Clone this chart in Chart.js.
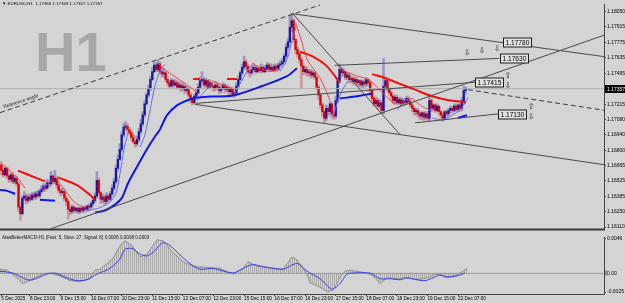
<!DOCTYPE html>
<html><head><meta charset="utf-8">
<script src="https://cdn.jsdelivr.net/npm/chart.js@4.4.1/dist/chart.umd.min.js"></script>
<style>
html,body{margin:0;padding:0;background:#d4d4d4;width:625px;height:303px;overflow:hidden;}
#c1{position:absolute;left:0;top:0;}
#c2{position:absolute;left:0;top:233px;}
</style></head><body>
<canvas id="c1" width="625" height="233"></canvas>
<canvas id="c2" width="625" height="70"></canvas>
<script>
// ---------------- DATA ----------------
const firstOpen = 1.1667;
const closes = [
1.1662,1.1658,1.1664,1.1657,1.1654,1.1658,1.1652,1.1655,1.1650,1.1629,
1.1623,1.1637,1.1639,1.1635,1.1638,1.1636,1.1640,1.1638,1.1641,1.1639,
1.1643,1.1645,1.1648,1.1646,1.1651,1.1650,1.1657,1.1652,1.1655,1.1649,
1.1644,1.1642,1.1643,1.1637,1.1634,1.1627,1.1625,1.1629,1.1626,1.1628,
1.1625,1.1628,1.1626,1.1629,1.1627,1.1630,1.1629,1.1632,1.1635,1.1639,
1.1653,1.1642,1.1636,1.1638,1.1634,1.1639,1.1636,1.1641,1.1646,1.1652,
1.1664,1.1672,1.1681,1.1694,1.1701,1.1702,1.1699,1.1696,1.1692,1.1688,
1.1686,1.1690,1.1697,1.1704,1.1712,1.1722,1.1730,1.1736,1.1744,1.1751,
1.1757,1.1753,1.1758,1.1751,1.1749,1.1750,1.1744,1.1741,1.1738,1.1743,
1.1739,1.1741,1.1737,1.1739,1.1736,1.1738,1.1734,1.1736,1.1730,1.1726,
1.1723,1.1729,1.1732,1.1737,1.1743,1.1744,1.1739,1.1743,1.1737,1.1741,
1.1738,1.1736,1.1739,1.1737,1.1734,1.1736,1.1739,1.1735,1.1737,1.1733,
1.1736,1.1730,1.1732,1.1738,1.1744,1.1750,1.1755,1.1760,1.1756,1.1751,
1.1750,1.1753,1.1755,1.1751,1.1754,1.1752,1.1755,1.1751,1.1754,1.1757,
1.1753,1.1755,1.1752,1.1756,1.1754,1.1757,1.1758,1.1760,1.1765,1.1773,
1.1778,1.1791,1.1797,1.1780,1.1771,1.1767,1.1762,1.1756,1.1751,1.1753,
1.1750,1.1751,1.1748,1.1750,1.1746,1.1737,1.1730,1.1721,1.1715,1.1709,
1.1718,1.1715,1.1722,1.1713,1.1711,1.1725,1.1743,1.1753,1.1750,1.1751,
1.1746,1.1748,1.1744,1.1745,1.1742,1.1744,1.1741,1.1743,1.1739,1.1742,
1.1740,1.1744,1.1741,1.1734,1.1727,1.1722,1.1725,1.1720,1.1723,1.1716,
1.1738,1.1743,1.1736,1.1732,1.1729,1.1725,1.1728,1.1723,1.1726,1.1722,
1.1725,1.1723,1.1727,1.1724,1.1721,1.1718,1.1715,1.1716,1.1713,1.1711,
1.1714,1.1710,1.1713,1.1709,1.1725,1.1718,1.1721,1.1716,1.1720,1.1715,
1.1712,1.1709,1.1715,1.1713,1.1716,1.1718,1.1716,1.1720,1.1717,1.1721,
1.1718,1.1725,1.1734,1.17357];
const highs = [
1.1670,1.1664,1.1665,1.1665,1.1658,1.1660,1.1659,1.1657,1.1657,1.1652,
1.1632,1.1639,1.1643,1.1641,1.1640,1.1641,1.1642,1.1642,1.1643,1.1643,
1.1645,1.1648,1.1650,1.1650,1.1654,1.1653,1.1661,1.1658,1.1662,1.1657,
1.1650,1.1646,1.1646,1.1645,1.1639,1.1636,1.1630,1.1631,1.1630,1.1629,
1.1629,1.1629,1.1629,1.1630,1.1630,1.1631,1.1632,1.1634,1.1637,1.1642,
1.1661,1.1655,1.1643,1.1641,1.1640,1.1642,1.1641,1.1643,1.1649,1.1655,
1.1667,1.1676,1.1686,1.1697,1.1704,1.1706,1.1704,1.1701,1.1698,1.1694,
1.1690,1.1693,1.1700,1.1708,1.1715,1.1725,1.1732,1.1739,1.1747,1.1755,
1.1760,1.1759,1.1762,1.1760,1.1754,1.1754,1.1751,1.1746,1.1743,1.1745,
1.1744,1.1744,1.1743,1.1742,1.1741,1.1741,1.1739,1.1738,1.1737,1.1732,
1.1728,1.1731,1.1735,1.1740,1.1746,1.1751,1.1746,1.1745,1.1744,1.1744,
1.1743,1.1740,1.1742,1.1741,1.1739,1.1738,1.1741,1.1740,1.1739,1.1738,
1.1737,1.1737,1.1735,1.1741,1.1747,1.1752,1.1758,1.1765,1.1762,1.1758,
1.1753,1.1756,1.1758,1.1757,1.1756,1.1756,1.1758,1.1757,1.1756,1.1759,
1.1759,1.1758,1.1757,1.1758,1.1758,1.1759,1.1761,1.1763,1.1767,1.1776,
1.1781,1.1802,1.1804,1.1799,1.1781,1.1773,1.1769,1.1764,1.1758,1.1756,
1.1755,1.1753,1.1753,1.1752,1.1751,1.1748,1.1739,1.1731,1.1723,1.1716,
1.1721,1.1720,1.1724,1.1723,1.1715,1.1729,1.1746,1.1758,1.1755,1.1754,
1.1752,1.1750,1.1750,1.1747,1.1747,1.1746,1.1746,1.1744,1.1744,1.1743,
1.1744,1.1746,1.1745,1.1743,1.1736,1.1729,1.1728,1.1727,1.1726,1.1725,
1.1763,1.1746,1.1744,1.1737,1.1734,1.1730,1.1730,1.1730,1.1728,1.1728,
1.1727,1.1727,1.1729,1.1729,1.1726,1.1723,1.1720,1.1718,1.1718,1.1715,
1.1715,1.1715,1.1715,1.1715,1.1731,1.1727,1.1722,1.1722,1.1722,1.1721,
1.1716,1.1714,1.1716,1.1716,1.1718,1.1720,1.1720,1.1722,1.1722,1.1722,
1.1722,1.1728,1.1738,1.1737];
const lows = [
1.1658,1.1656,1.1657,1.1655,1.1651,1.1652,1.1650,1.1650,1.1648,1.1625,
1.1617,1.1622,1.1635,1.1632,1.1633,1.1634,1.1635,1.1636,1.1636,1.1637,
1.1638,1.1641,1.1643,1.1643,1.1645,1.1647,1.1648,1.1650,1.1650,1.1646,
1.1642,1.1639,1.1640,1.1635,1.1630,1.1618,1.1622,1.1623,1.1624,1.1624,
1.1623,1.1623,1.1624,1.1624,1.1625,1.1625,1.1626,1.1627,1.1630,1.1633,
1.1637,1.1639,1.1632,1.1633,1.1631,1.1632,1.1634,1.1635,1.1639,1.1644,
1.1650,1.1662,1.1671,1.1679,1.1692,1.1698,1.1696,1.1694,1.1689,1.1686,
1.1683,1.1684,1.1688,1.1695,1.1702,1.1710,1.1721,1.1728,1.1734,1.1743,
1.1750,1.1751,1.1751,1.1749,1.1746,1.1746,1.1742,1.1738,1.1736,1.1737,
1.1737,1.1738,1.1735,1.1736,1.1733,1.1734,1.1731,1.1732,1.1728,1.1723,
1.1721,1.1722,1.1727,1.1730,1.1736,1.1741,1.1737,1.1737,1.1735,1.1736,
1.1736,1.1733,1.1734,1.1735,1.1731,1.1732,1.1735,1.1732,1.1733,1.1730,
1.1731,1.1729,1.1728,1.1730,1.1737,1.1743,1.1748,1.1753,1.1753,1.1749,
1.1746,1.1748,1.1751,1.1749,1.1750,1.1750,1.1750,1.1750,1.1750,1.1752,
1.1751,1.1751,1.1751,1.1751,1.1751,1.1752,1.1755,1.1757,1.1758,1.1763,
1.1771,1.1776,1.1787,1.1777,1.1767,1.1764,1.1759,1.1736,1.1748,1.1749,
1.1747,1.1747,1.1745,1.1746,1.1744,1.1735,1.1726,1.1718,1.1711,1.1705,
1.1707,1.1711,1.1712,1.1709,1.1708,1.1709,1.1723,1.1741,1.1747,1.1747,
1.1744,1.1744,1.1741,1.1741,1.1739,1.1740,1.1738,1.1738,1.1737,1.1737,
1.1737,1.1738,1.1738,1.1731,1.1724,1.1720,1.1720,1.1717,1.1718,1.1714,
1.1713,1.1736,1.1733,1.1730,1.1726,1.1722,1.1722,1.1721,1.1722,1.1720,
1.1721,1.1721,1.1722,1.1722,1.1719,1.1715,1.1712,1.1712,1.1710,1.1708,
1.1708,1.1707,1.1708,1.1706,1.1707,1.1715,1.1716,1.1714,1.1715,1.1712,
1.1709,1.1706,1.1708,1.1710,1.1711,1.1714,1.1714,1.1715,1.1715,1.1715,
1.1715,1.1716,1.1723,1.1731];

// x tick positions (bar index) and their labels
const xTickIdx = [0,15,31,47,63,79,95,111,127,143,159,175,191,207,223,239];
const xTickLabels = ['5 Dec 2025','8 Dec 23:00','9 Dec 15:00','10 Dec 07:00','10 Dec 23:00','11 Dec 15:00','12 Dec 07:00','12 Dec 23:00','15 Dec 15:00','16 Dec 07:00','16 Dec 23:00','17 Dec 15:00','18 Dec 07:00','18 Dec 23:00','19 Dec 15:00','22 Dec 07:00'];
// price axis tick labels
const yTicks = [1.18050,1.17915,1.17775,1.17635,1.17495,1.17215,1.17080,1.16940,1.16800,1.16665,1.16525,1.16385,1.16250,1.16110];
const macdTicks = [0.0046, 0, -0.0025];

// slow MA (thick) segments: [barIndex, price]
const slowBlueSegs = [
 [[-0.7,1.16443],[3.5,1.16434],[7.2,1.16408]],
 [[20.2,1.16356],[28.1,1.16347]],
 [[49,1.16241],[54.2,1.16259],[59.5,1.16312],[63.1,1.16373],[66.3,1.16505],[71,1.16654],[76.2,1.16812],[80.4,1.16926],[83,1.16988],[86.7,1.17119],[91.9,1.17207],[97.2,1.17251],[102.4,1.17277],[109.2,1.17286],[121.2,1.17295],[136.9,1.17383],[149.5,1.17470],[154.7,1.17541]],
 [[177.2,1.17269],[185,1.17286],[194,1.17313]],
 [[239,1.17093],[243.7,1.17119]]
];
const slowRedSegs = [
 [[8.7,1.16619],[15,1.16575],[22.8,1.16522]],
 [[29.7,1.16557],[39.6,1.16487],[46.4,1.16399],[49,1.16356]],
 [[100.3,1.17444],[103.9,1.17444]],
 [[118.1,1.17444],[123.3,1.17444]],
 [[156.3,1.17690],[163.1,1.17646],[170.4,1.17558],[177.2,1.17409]],
 [[194,1.17488],[200.8,1.17453],[208.6,1.17400],[216.5,1.17348],[224.3,1.17295],[232.2,1.17260],[243.1,1.17233]]
];
// fast MA (thin) segments
const fastRedSegs = [
 [[0.3,1.16680],[4.5,1.16619],[8.7,1.16549],[12.4,1.16461]],
 [[28.1,1.16566],[33.3,1.16443],[38.6,1.16329],[43.8,1.16285]],
 [[66.3,1.17005],[70,1.16926],[72.6,1.16882]],
 [[82,1.17585],[86.7,1.17514],[91.9,1.17453],[98.7,1.17374],[102.4,1.17321]],
 [[110.8,1.17427],[115.5,1.17392],[120.7,1.17356]],
 [[131.2,1.17593],[135.4,1.17541],[140.6,1.17514],[145.8,1.17532]],
 [[154.2,1.17936],[157.3,1.17778],[160,1.17620],[166.8,1.17453],[172,1.17251]],
 [[179.8,1.17514],[185,1.17479],[191.3,1.17444],[195.5,1.17392],[200.8,1.17295],[206,1.17216]],
 [[214.9,1.17269],[220.1,1.17198],[224.3,1.17163]]
];
const fastBlueSegs = [
 [[12.4,1.16373],[17.6,1.16417],[22.8,1.16478],[26.5,1.16531]],
 [[45.4,1.16259],[51.6,1.16285],[56.9,1.16338],[60,1.16417],[62.1,1.16592],[64.2,1.16812],[66.3,1.16961]],
 [[72.6,1.16830],[75.2,1.16944],[77.8,1.17163],[80.4,1.17383],[83,1.17514],[85.6,1.17576]],
 [[102.4,1.17251],[107.6,1.17356],[110.8,1.17409]],
 [[121.2,1.17295],[124.9,1.17400],[128.6,1.17514],[131.2,1.17576]],
 [[145.8,1.17514],[149.5,1.17620],[152.1,1.17795],[154.2,1.17910]],
 [[173.6,1.17102],[176.2,1.17251],[178.8,1.17356],[181.4,1.17427]],
 [[207.1,1.17163],[211.2,1.17251],[214.9,1.17269]],
 [[225.4,1.17093],[231.1,1.17075],[235.8,1.17119],[240,1.17163],[244.2,1.17277]]
];
// trend lines [barIndex, price]
const trendSolid = [
 [[152.6,1.18032],[315.4,1.17646]],
 [[152.6,1.18032],[208.6,1.16944]],
 [[25.5,1.16092],[315.4,1.17839]],
 [[174.4,1.17567],[260.6,1.17630]],
 [[101.3,1.17216],[315.4,1.16672]],
 [[101.9,1.17225],[247.9,1.17415]],
 [[216.5,1.17049],[259.9,1.17130]]
];
const trendDashed = [
 [[-0.7,1.17141],[166.8,1.18111]],
 [[244.2,1.17348],[315.4,1.17163]]
];
// price label boxes
const boxIdx = [262.5, 261, 247.9, 259.9];
const boxPrice = [1.17780, 1.17630, 1.17415, 1.17130];
// hollow arrows
const arrowIdx = [265.1, 265.1, 277.2, 277.2, 243.7, 251.5, 259.4];
const arrowPrice = [1.17471, 1.17383, 1.17190, 1.17102, 1.17681, 1.17699, 1.17716];
const arrowGlyph = ['\u21E7','\u21E9','\u21E7','\u21E9','\u21E9','\u21E9','\u21E9'];
// MACD panel
const macdLine = [[-0.7,0.00055],[3,0.00042],[8.2,-0.0006],[11.3,-0.00136],[16.6,-0.00072],[21.8,-0.00009],[25.5,0.00004],[30.7,-0.00034],[36,-0.00098],[41.2,-0.0011],[46.4,-0.00072],[49,0.00042],[51.6,0.00055],[58.4,0.00194],[62.1,0.00371],[64.7,0.00435],[68.4,0.00371],[72.6,0.00219],[76.2,0.00257],[81.5,0.00448],[84.6,0.00435],[89.8,0.00283],[95.1,0.00156],[100.3,0.00093],[107.6,0.0008],[114.4,0.00067],[121.2,-0.00009],[126.5,0.00067],[129.1,0.00156],[133.8,0.00093],[139,0.0008],[147.4,0.00055],[152.1,0.00219],[154.7,0.00181],[160,-0.00009],[161.5,-0.00123],[166.8,-0.00186],[171,-0.0025],[173.6,-0.00224],[177.2,-0.0006],[179.8,0.00029],[182.5,0.00042],[191.4,0.00004],[194.5,-0.00034],[198.2,-0.00136],[201.8,-0.0006],[208.6,-0.00072],[212.3,-0.0006],[217.5,-0.00085],[222.8,-0.0006],[228,-0.00009],[233.2,-0.0006],[238.4,-0.00022],[243.7,0.00067]];
const signalLine = [[-0.7,0.00029],[6.1,0.00004],[13.4,-0.00085],[16.6,-0.00085],[23.9,-0.00009],[28.1,0.00004],[34.4,-0.0006],[39.6,-0.00098],[44.8,-0.00085],[50.1,-0.00009],[56.9,0.00067],[62.1,0.00194],[64.7,0.00321],[68.4,0.00333],[72.6,0.00257],[76.2,0.00232],[79.4,0.00283],[84.6,0.0041],[88.3,0.00371],[93.5,0.00245],[98.7,0.00131],[104,0.00055],[110.8,0.00067],[121.2,0.00004],[128.6,0.00093],[131.7,0.00118],[139,0.0008],[147.4,0.00055],[152.6,0.00118],[155.2,0.00131],[160,0.00029],[166.8,-0.00072],[172,-0.00199],[173.6,-0.00212],[177.2,-0.00136],[180.9,-0.00009],[184,0.00004],[192.9,0.00004],[198.2,-0.00072],[203.4,-0.00072],[208.6,-0.00085],[212.3,-0.0006],[217.5,-0.00085],[221.7,-0.00098],[225.9,-0.0006],[229.6,-0.00022],[233.2,-0.00047],[238.4,-0.00034],[242.6,0.00004]];

// ---------------- BUILD ----------------
const XMIN = -0.696, XMAX = 315.37;
const FONT = '"Liberation Sans", Arial, sans-serif';
const opens = closes.map((c,i)=> i===0 ? firstOpen : closes[i-1]);
const isBull = i => closes[i] >= opens[i];
const lastPrice = closes[closes.length-1];
const pts = seg => seg.map(([x,y])=>({x,y}));
function lineDS(seg, color, width, extra){
  return Object.assign({type:'line', data:pts(seg), borderColor:color, borderWidth:width, pointRadius:0, fill:false, tension:0, order:1}, extra||{});
}
const mainSets = [];
mainSets.push({type:'bar', data: closes.map((c,i)=>({x:i, y:[Math.min(lows[i],opens[i],c), Math.max(highs[i],opens[i],c)]})),
  barThickness:2, grouped:false, order:30, minBarLength:1,
  backgroundColor: ctx => ctx.dataIndex===undefined ? '#999' : (isBull(ctx.dataIndex) ? 'rgba(105,105,180,0.55)' : 'rgba(195,115,125,0.6)')});
mainSets.push({type:'bar', data: closes.map((c,i)=>({x:i, y:[opens[i], c]})),
  barThickness:1.6, grouped:false, order:29, minBarLength:1,
  backgroundColor: ctx => ctx.dataIndex===undefined ? '#999' : (isBull(ctx.dataIndex) ? '#1818a4' : '#e00000')});
mainSets.push(lineDS([[XMIN,lastPrice],[XMAX,lastPrice]], '#b0b0b0', 1, {order:25}));
fastRedSegs.forEach(s=>mainSets.push(lineDS(s,'#e84a4a',1,{order:6, tension:0.3})));
fastBlueSegs.forEach(s=>mainSets.push(lineDS(s,'#6a6af0',1,{order:6, tension:0.3})));
slowRedSegs.forEach(s=>mainSets.push(lineDS(s,'#f01010',2,{order:5, tension:0.3})));
slowBlueSegs.forEach(s=>mainSets.push(lineDS(s,'#1414e6',2,{order:5, tension:0.3})));
trendSolid.forEach(s=>mainSets.push(lineDS(s,'#4a4a4a',1,{order:2})));
trendDashed.forEach(s=>mainSets.push(lineDS(s,'#3c3c3c',1,{order:2, borderDash:[5,3]})));

const mainDecor = {
  id:'mainDecor',
  beforeDatasetsDraw(chart){
    const c = chart.ctx; c.save();
    c.fillStyle = '#a7a7a7'; c.font = 'bold 56px ' + FONT; c.textBaseline='alphabetic';
    c.fillText('H1', 35, 71); c.restore();
  },
  afterDatasetsDraw(chart){
    const c = chart.ctx, xs = chart.scales.x, ys = chart.scales.y;
    c.save();
    const d = trendDashed[0];
    const x0 = xs.getPixelForValue(d[0][0]), y0 = ys.getPixelForValue(d[0][1]);
    const x1 = xs.getPixelForValue(d[1][0]), y1 = ys.getPixelForValue(d[1][1]);
    const ang = Math.atan2(y1-y0, x1-x0);
    c.translate(x0 + 5*Math.cos(ang), y0 + 5*Math.sin(ang));
    c.rotate(ang); c.fillStyle='#222'; c.font='5px '+FONT; c.textBaseline='bottom';
    c.fillText('Reference angle', 0, -1.5);
    c.restore();
    c.save();
    c.font = '6.6px ' + FONT; c.textBaseline='middle';
    boxIdx.forEach((ix,k)=>{
      const x = Math.round(xs.getPixelForValue(ix)) + 0.5;
      const y = Math.round(ys.getPixelForValue(boxPrice[k])) + 0.5;
      const t = boxPrice[k].toFixed(5);
      const w = Math.round(c.measureText(t).width) + 4;
      c.fillStyle = '#e2e2e2'; c.fillRect(x, y-4.5, w, 9);
      c.strokeStyle = '#1e1e1e'; c.lineWidth = 1; c.strokeRect(x, y-4.5, w, 9);
      c.fillStyle = '#000'; c.fillText(t, x+2, y+0.5);
    });
    c.font = '8px "DejaVu Sans", sans-serif'; c.textAlign='center'; c.fillStyle='#2a2a2a';
    arrowIdx.forEach((ix,k)=>{
      c.fillText(arrowGlyph[k], xs.getPixelForValue(ix), ys.getPixelForValue(arrowPrice[k]));
    });
    c.restore();
  },
  afterDraw(chart){
    const c = chart.ctx, ys = chart.scales.y, a = chart.chartArea;
    c.save();
    c.fillStyle='#111'; c.font='4.4px '+FONT; c.textBaseline='middle';
    c.fillText('\u25BC EURUSD,H1  1.17368 1.17368 1.17357 1.17357', 2, 4);
    c.fillStyle='#3a3a3a'; c.fillRect(0, a.bottom-0.5, a.right+1, 2);
    const y = Math.round(ys.getPixelForValue(lastPrice));
    c.fillStyle='#000'; c.fillRect(a.right+1, y-4, 21, 8);
    c.fillStyle='#fff'; c.font='5px '+FONT; c.fillText(lastPrice.toFixed(5), a.right+3, y+0.5);
    c.restore();
  }
};

new Chart(document.getElementById('c1'), {
  type:'line',
  data:{datasets: mainSets},
  options:{
    responsive:false, animation:false, events:[],
    layout:{padding:{top:1,bottom:1,left:0,right:0}},
    plugins:{legend:{display:false}, tooltip:{enabled:false}},
    scales:{
      x:{type:'linear', min:XMIN, max:XMAX, display:false, offset:false},
      y:{type:'linear', position:'right', min:1.160924, max:1.181202,
         afterBuildTicks: s => { s.ticks = yTicks.map(v=>({value:v})); },
         afterFit: s => { s.width = 21; },
         ticks:{autoSkip:false, padding:1, color:'#000', font:{size:5, family:FONT}, callback: v => Number(v).toFixed(5)},
         grid:{drawOnChartArea:false, tickLength:2, color:'#444'},
         border:{color:'#444', width:1}}
    }
  },
  plugins:[mainDecor]
});

function stripes(){
  const cv = document.createElement('canvas'); cv.width = 2; cv.height = 4;
  const g = cv.getContext('2d'); g.fillStyle = 'rgba(125,125,125,0.5)'; g.fillRect(0,0,1,4);
  return g.createPattern(cv, 'repeat');
}
const macdDecor = {
  id:'macdDecor',
  afterDraw(chart){
    const c = chart.ctx, ys = chart.scales.y, a = chart.chartArea;
    c.save();
    c.fillStyle='#111'; c.font='4.6px '+FONT; c.textBaseline='middle';
    c.fillText('AtasBetterMACD-H1 (Fast: 5, Slow: 27, Signal: 8) 0.0006 0.0008 0.0003', 2, 4.5);
    const y0 = Math.round(ys.getPixelForValue(0));
    c.fillStyle='#8a8a8a'; c.fillRect(a.right+1, y0-2.5, 3, 5);
    c.restore();
  }
};
new Chart(document.getElementById('c2'), {
  type:'line',
  data:{datasets:[
    lineDS([[XMIN,0],[XMAX,0]], '#9c9c9c', 1, {order:5}),
    lineDS(macdLine, '#8e8e8e', 1, {order:3, fill:'origin', backgroundColor: stripes()}),
    lineDS(signalLine, '#3c3ce0', 1, {order:1, tension:0.25})
  ]},
  options:{
    responsive:false, animation:false, events:[],
    layout:{padding:{top:1,bottom:0,left:0,right:0}},
    plugins:{legend:{display:false}, tooltip:{enabled:false}},
    scales:{
      x:{type:'linear', min:XMIN, max:XMAX, offset:false,
         afterBuildTicks: s => { s.ticks = xTickIdx.map(v=>({value:v})); },
         afterFit: s => { s.height = 9; },
         ticks:{autoSkip:false, maxRotation:0, minRotation:0, align:'start', padding:0, color:'#000', font:{size:4.7, family:FONT},
                callback: v => xTickLabels[xTickIdx.indexOf(v)]},
         grid:{drawOnChartArea:false, tickLength:2, color:'#444'},
         border:{color:'#444', width:1}},
      y:{type:'linear', position:'right', min:-0.002754, max:0.004854,
         afterBuildTicks: s => { s.ticks = macdTicks.map(v=>({value:v})); },
         afterFit: s => { s.width = 21; },
         ticks:{autoSkip:false, padding:1, color:'#000', font:{size:5, family:FONT}, callback: v => v===0 ? '0.00' : Number(v).toFixed(4)},
         grid:{drawOnChartArea:false, tickLength:2, color:'#444'},
         border:{color:'#444', width:1}}
    }
  },
  plugins:[macdDecor]
});
</script>
</body></html>
